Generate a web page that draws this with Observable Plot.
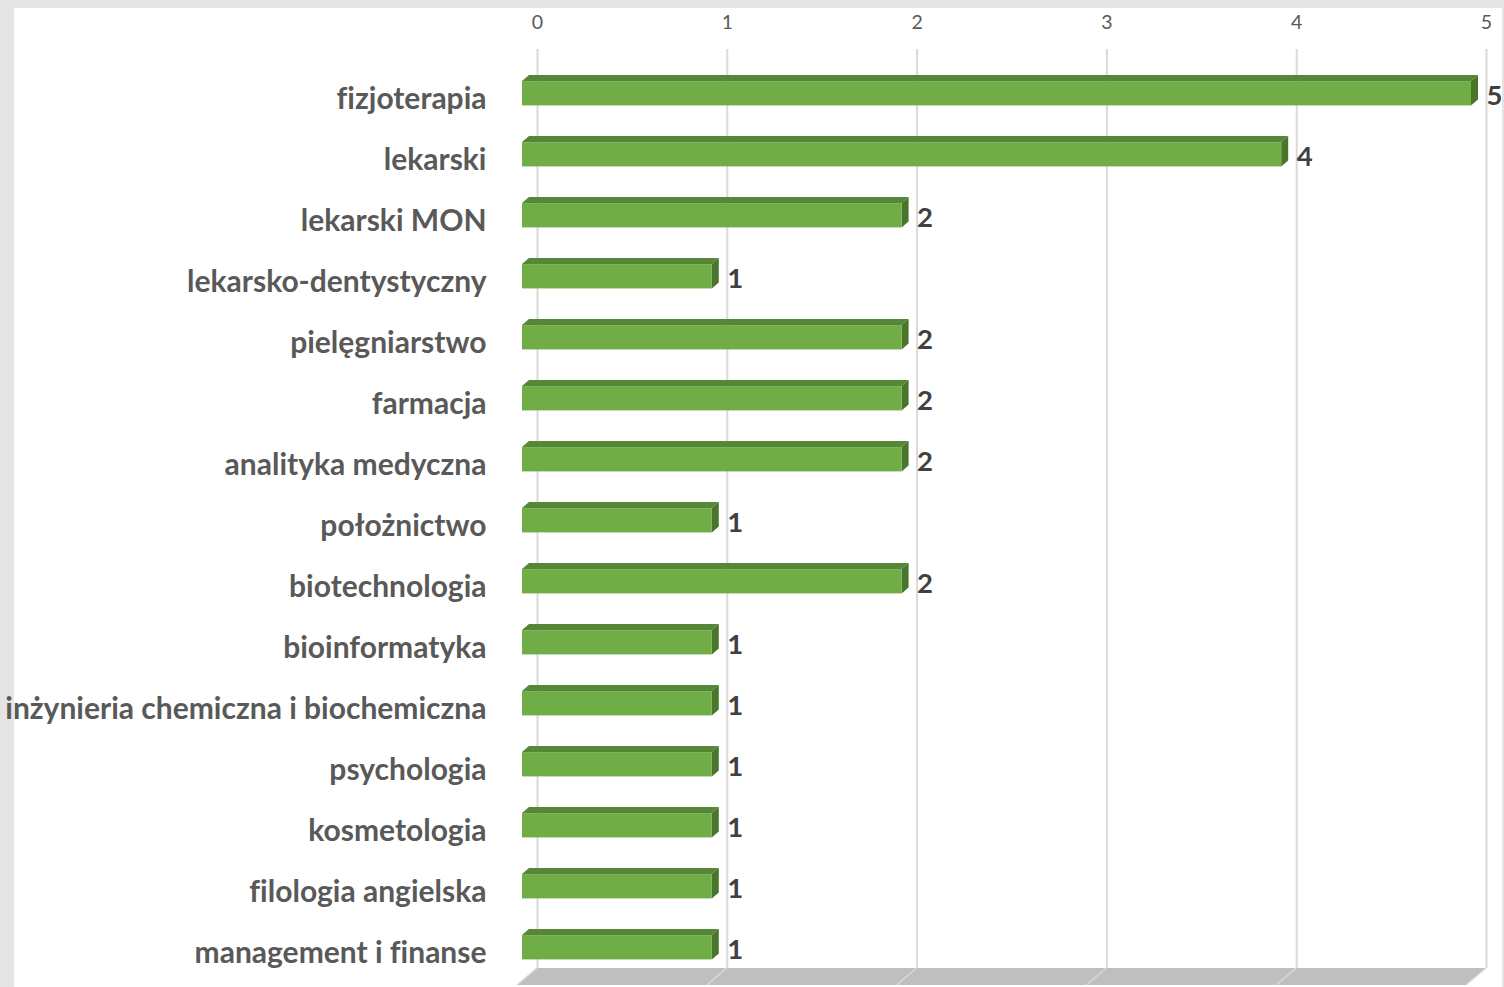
<!DOCTYPE html>
<html><head><meta charset="utf-8">
<script src="https://cdn.jsdelivr.net/npm/d3@7"></script>
<script src="https://cdn.jsdelivr.net/npm/@observablehq/plot@0.6"></script>
<style>
html,body{margin:0;padding:0;background:#e5e5e5;}
#chart{position:absolute;left:14px;top:8px;width:1488px;height:979px;background:#fff;overflow:visible;}
#chart svg{display:block;font-family:Lato,"Open Sans",sans-serif;background:transparent;font-variant-ligatures:none;overflow:visible;}
#chart svg text{font-variant-ligatures:none;}
</style></head><body><div id="chart"></div>
<script>
const categories = ["fizjoterapia","lekarski","lekarski MON","lekarsko-dentystyczny","pielęgniarstwo","farmacja","analityka medyczna","położnictwo","biotechnologia","bioinformatyka","inżynieria chemiczna i biochemiczna","psychologia","kosmetologia","filologia angielska","management i finanse"];
const values = [5,4,2,1,2,2,2,1,2,1,1,1,1,1,1];
const tickValues = [0,1,2,3,4,5];
const data = categories.map((name, i) => ({name, value: values[i]}));

const W = 1488, H = 979, MT = 53.4, MB = 7.6, ML = 508, MR = 31;
const BW = (H - MT - MB) / categories.length;
const WALL_DX = 15, FLOOR_DX = -5, BAR_DX = 7, BAR_DY = -6;
const BAR_TOP = -12.5, BAR_BOTTOM = 12;
const FRONT = "#70ad47", TOP = "#568638", SIDE = "#4a762c";
const FLOOR_BACK = -11.4, FLOOR_FRONT = 5.6;

function floorMark(index, scales, vals, dim) {
  const {x} = scales;
  const base = dim.height - dim.marginBottom;
  const yb = base + FLOOR_BACK, yf = base + FLOOR_FRONT;
  const x0 = x(tickValues[0]), x1 = x(tickValues[tickValues.length - 1]);
  const g = d3.create("svg:g");
  g.append("polygon")
    .attr("points", [[x0 + WALL_DX, yb], [x1 + WALL_DX, yb], [x1 + FLOOR_DX, yf], [x0 + FLOOR_DX, yf]].join(" "))
    .attr("fill", "#bfbfbf");
  for (const v of tickValues) {
    g.append("line")
      .attr("x1", x(v) + WALL_DX).attr("y1", yb)
      .attr("x2", x(v) + FLOOR_DX).attr("y2", yf)
      .attr("stroke", "#d9d9d9").attr("stroke-width", 1.5);
  }
  return g.node();
}

function depthFaces(index, scales) {
  const {x, y} = scales;
  const bw = y.bandwidth ? y.bandwidth() : BW;
  const g = d3.create("svg:g");
  for (const d of data) {
    const c = y(d.name) + bw / 2;
    const x0 = x(0), x1 = x(d.value);
    const t = c + BAR_TOP, b = c + BAR_BOTTOM;
    g.append("polygon")
      .attr("points", [[x0, t], [x1, t], [x1 + BAR_DX, t + BAR_DY], [x0 + BAR_DX, t + BAR_DY]].join(" "))
      .attr("fill", TOP);
    g.append("polygon")
      .attr("points", [[x1, t], [x1 + BAR_DX, t + BAR_DY], [x1 + BAR_DX, b + BAR_DY], [x1, b]].join(" "))
      .attr("fill", SIDE);
  }
  return g.node();
}

const chart = Plot.plot({
  width: W, height: H,
  marginTop: MT, marginBottom: MB, marginLeft: ML, marginRight: MR,
  x: {domain: [0, 5], axis: null},
  y: {type: "band", domain: categories, padding: 0, axis: null},
  style: {background: "transparent", fontFamily: "Lato, 'Open Sans', sans-serif", overflow: "visible"},
  marks: [
    Plot.ruleX(tickValues, {x: d => d, dx: WALL_DX, stroke: "#d9d9d9", strokeWidth: 2, insetTop: -12.4, insetBottom: 11.4}),
    floorMark,
    Plot.text(tickValues, {x: d => d, text: d => String(d), frameAnchor: "top", lineAnchor: "middle", dx: WALL_DX, dy: -39.4, fontSize: 19.5, fill: "#595959"}),
    depthFaces,
    Plot.barX(data, {x: "value", y: "name", fill: FRONT, insetTop: BW / 2 + BAR_TOP, insetBottom: BW / 2 - BAR_BOTTOM}),
    Plot.text(data, {x: "value", y: "name", text: d => String(d.value), dx: 15, dy: 2, textAnchor: "start", fontSize: 27.5, fontWeight: "bold", fill: "#404040"}),
    Plot.text(data, {y: "name", frameAnchor: "left", text: "name", textAnchor: "end", dx: -36, dy: 5, fontSize: 30, fontWeight: "bold", fill: "#595959"})
  ]
});
document.getElementById("chart").appendChild(chart);
</script>
</body></html>
